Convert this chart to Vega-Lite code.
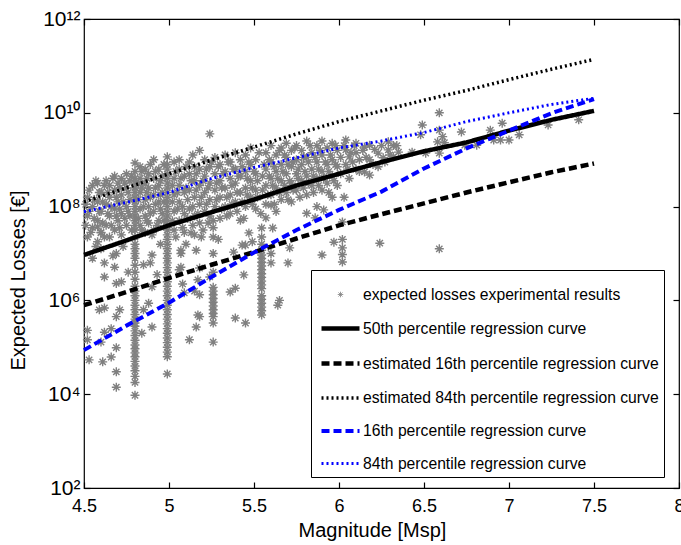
{
"$schema":"https://vega.github.io/schema/vega-lite/v6.json",
"width":595,"height":469,
"autosize":{"type":"none"},
"padding":{"left":84,"top":19,"right":2,"bottom":57},
"background":"white",
"config":{"font":"Liberation Sans","view":{"stroke":"black","strokeWidth":1.2},
 "axis":{"labelColor":"black","titleColor":"black","tickColor":"black","domain":false,"labelFontSize":18,"titleFontSize":20,"titleFontWeight":"normal","grid":false,"tickSize":6,"offset":-6,"tickWidth":1.2,"zindex":1,"labelFlush":false}},
"datasets":{
"pts":[
{"m":4.8,"v":9.5e3},{"m":4.8,"v":1.78e4},{"m":4.8,"v":2.4e4},{"m":4.8,"v":3.16e4},{"m":4.8,"v":3.98e4},{"m":4.8,"v":5.0e4},{"m":4.8,"v":6.3e4},{"m":4.8,"v":7.6e4},{"m":4.8,"v":9.3e4},{"m":4.8,"v":1.12e5},{"m":4.8,"v":1.41e5},{"m":4.8,"v":1.78e5},{"m":4.8,"v":2.24e5},{"m":4.8,"v":2.82e5},{"m":4.8,"v":3.3e5},{"m":4.8,"v":3.98e5},{"m":4.8,"v":5.0e5},{"m":4.8,"v":6.3e5},{"m":4.8,"v":7.9e5},{"m":4.8,"v":1.0e6},{"m":4.8,"v":1.26e6},{"m":4.8,"v":1.58e6},{"m":4.8,"v":2.0e6},{"m":4.8,"v":2.82e6},{"m":4.8,"v":3.98e6},{"m":4.8,"v":5.6e6},{"m":4.8,"v":7.9e6},{"m":4.8,"v":1.0e7},{"m":4.8,"v":1.26e7},{"m":4.8,"v":1.58e7},{"m":4.8,"v":2.24e7},{"m":4.8,"v":3.16e7},{"m":4.8,"v":3.98e7},{"m":4.8,"v":5.0e7},{"m":4.8,"v":6.3e7},{"m":4.8,"v":7.9e7},{"m":4.8,"v":1.0e8},{"m":4.8,"v":1.26e8},{"m":4.8,"v":1.58e8},{"m":4.8,"v":2.0e8},{"m":4.8,"v":2.5e8},{"m":4.8,"v":3.16e8},{"m":4.8,"v":3.98e8},{"m":4.8,"v":5.6e8},{"m":4.8,"v":8.5e8},
{"m":4.99,"v":2.7e4},{"m":4.99,"v":6.3e4},{"m":4.99,"v":7.9e4},{"m":4.99,"v":1.0e5},{"m":4.99,"v":1.26e5},{"m":4.99,"v":1.58e5},{"m":4.99,"v":2.0e5},{"m":4.99,"v":2.5e5},{"m":4.99,"v":3.16e5},{"m":4.99,"v":3.98e5},{"m":4.99,"v":5.0e5},{"m":4.99,"v":6.3e5},{"m":4.99,"v":7.9e5},{"m":4.99,"v":1.0e6},{"m":4.99,"v":1.26e6},{"m":4.99,"v":1.58e6},{"m":4.99,"v":2.0e6},{"m":4.99,"v":2.5e6},{"m":4.99,"v":3.16e6},{"m":4.99,"v":3.98e6},{"m":4.99,"v":5.0e6},{"m":4.99,"v":6.3e6},{"m":4.99,"v":7.9e6},{"m":4.99,"v":1.0e7},{"m":4.99,"v":1.26e7},{"m":4.99,"v":1.58e7},{"m":4.99,"v":2.0e7},{"m":4.99,"v":2.5e7},{"m":4.99,"v":3.16e7},{"m":4.99,"v":3.98e7},{"m":4.99,"v":5.0e7},{"m":4.99,"v":6.3e7},{"m":4.99,"v":7.9e7},{"m":4.99,"v":1.0e8},{"m":4.99,"v":1.26e8},{"m":4.99,"v":1.58e8},{"m":4.99,"v":2.0e8},{"m":4.99,"v":2.5e8},{"m":4.99,"v":3.16e8},{"m":4.99,"v":3.98e8},{"m":4.99,"v":5.0e8},{"m":4.99,"v":6.3e8},{"m":4.99,"v":7.9e8},{"m":4.99,"v":1.15e9},
{"m":5.26,"v":1.29e5},{"m":5.26,"v":3.3e5},{"m":5.26,"v":4.5e5},{"m":5.26,"v":5.25e5},{"m":5.26,"v":6.3e5},{"m":5.26,"v":7.6e5},{"m":5.26,"v":9.1e5},{"m":5.26,"v":1.1e6},{"m":5.26,"v":1.32e6},{"m":5.26,"v":1.58e6},{"m":5.26,"v":1.9e6},{"m":5.26,"v":3.98e6},{"m":5.26,"v":1.0e7},{"m":5.26,"v":2.24e7},{"m":5.26,"v":3.55e7},
{"m":5.545,"v":4.9e5},{"m":5.545,"v":6.0e5},{"m":5.545,"v":7.2e5},{"m":5.545,"v":8.7e5},{"m":5.545,"v":1.05e6},{"m":5.545,"v":1.26e6},{"m":5.545,"v":1.78e6},{"m":5.545,"v":2.14e6},{"m":5.545,"v":2.57e6},{"m":5.545,"v":3.1e6},{"m":5.545,"v":3.7e6},{"m":5.545,"v":4.5e6},{"m":5.545,"v":5.4e6},{"m":5.545,"v":6.5e6},{"m":5.545,"v":7.8e6},{"m":5.545,"v":9.3e6},{"m":5.545,"v":1.17e7},{"m":5.545,"v":1.58e7},{"m":5.545,"v":2.24e7},{"m":5.545,"v":3.5e7},
{"m":6.02,"v":6.6e6},{"m":6.02,"v":9.5e6},{"m":6.02,"v":1.32e7},{"m":6.02,"v":2.0e7},
{"m":4.52,"v":2.3e5},{"m":4.52,"v":1.45e5},{"m":4.53,"v":5.4e4},{"m":4.62,"v":6.3e6},{"m":4.62,"v":3.16e6},{"m":4.69,"v":2.3e6},{"m":4.62,"v":6.9e5},{"m":4.71,"v":6.3e5},{"m":4.69,"v":4.5e5},{"m":4.62,"v":2.1e5},{"m":4.66,"v":2.5e5},{"m":4.69,"v":9.8e4},{"m":4.66,"v":6.2e4},{"m":4.61,"v":4.9e4},{"m":4.69,"v":3.0e4},{"m":4.69,"v":1.41e4},{"m":4.85,"v":5.75e6},{"m":4.89,"v":6.3e6},{"m":4.9,"v":1.95e6},{"m":4.9,"v":2.7e5},{"m":4.88,"v":8.7e5},{"m":4.84,"v":2.0e5},{"m":4.9,"v":9.3e6},{"m":5.07,"v":5.1e6},{"m":5.07,"v":1.0e7},{"m":5.16,"v":1.17e7},{"m":5.09,"v":1.45e6},{"m":5.15,"v":1.58e6},{"m":5.17,"v":4.9e5},{"m":5.16,"v":2.7e5},{"m":5.12,"v":1.45e5},{"m":5.17,"v":2.75e6},{"m":5.43,"v":1.51e7},{"m":5.49,"v":1.78e7},{"m":5.38,"v":1.07e7},{"m":5.6,"v":1.0e7},{"m":5.6,"v":6.3e6},{"m":5.7,"v":6.3e6},{"m":5.71,"v":1.32e7},{"m":5.9,"v":9.3e6},{"m":5.44,"v":3.5e6},{"m":5.36,"v":1.51e6},{"m":5.39,"v":1.82e6},{"m":5.65,"v":1.0e6},{"m":5.64,"v":7.9e5},{"m":5.39,"v":4.2e5},{"m":5.45,"v":3.3e5},{"m":5.18,"v":1.32e6},{"m":5.18,"v":4.5e5},{"m":6.24,"v":1.66e7},{"m":6.59,"v":1.26e7},{"m":6.03,"v":1.58e8},{"m":4.68,"v":5.1e6},{"m":4.59,"v":6.3e5},{"m":4.6,"v":1.29e5},{"m":4.85,"v":6.3e5},{"m":5.06,"v":4.5e6},{"m":5.18,"v":4.9e6},{"m":5.24,"v":3.16e6},{"m":4.55,"v":7.9e6},{"m":4.6,"v":1.26e7},{"m":4.67,"v":8.9e6},{"m":4.73,"v":1.41e7},{"m":4.76,"v":4.0e6},{"m":4.72,"v":2.5e6},{"m":4.58,"v":3.7e7},{"m":4.6,"v":2.75e7},{"m":4.57,"v":1.41e7},{"m":4.93,"v":3.55e6},{"m":4.95,"v":1.58e7},{"m":5.08,"v":2.24e6},
{"m":4.62,"v":2.24e7},{"m":4.69,"v":1.0e7},{"m":5.07,"v":1.17e7},{"m":5.13,"v":2.75e7},{"m":5.19,"v":2.24e7},{"m":5.1,"v":1.58e7},{"m":5.42,"v":5.1e7},{"m":5.61,"v":3.5e7},{"m":5.57,"v":5.75e7},{"m":5.81,"v":7.2e7},{"m":5.91,"v":8.5e7},{"m":5.86,"v":5.75e7},{"m":6.02,"v":4.7e7},{"m":5.6,"v":1.07e8},{"m":5.47,"v":2.75e7},{"m":5.45,"v":1.51e7},{"m":5.97,"v":1.74e7},{"m":5.29,"v":2.0e7},
{"m":4.52,"v":2.24e7},{"m":4.52,"v":6.3e7},{"m":4.52,"v":1.58e8},
{"m":4.55,"v":3.55e7},{"m":4.55,"v":1.0e8},{"m":4.55,"v":2.82e8},
{"m":4.58,"v":1.78e7},{"m":4.58,"v":5.0e7},{"m":4.58,"v":1.26e8},{"m":4.58,"v":3.16e8},
{"m":4.6,"v":2.82e7},{"m":4.6,"v":7.9e7},{"m":4.6,"v":2.0e8},
{"m":4.63,"v":3.98e7},{"m":4.63,"v":1.12e8},{"m":4.63,"v":3.55e8},
{"m":4.65,"v":2.24e7},{"m":4.65,"v":6.3e7},{"m":4.65,"v":1.58e8},{"m":4.65,"v":2.82e8},
{"m":4.68,"v":3.16e7},{"m":4.68,"v":8.9e7},{"m":4.68,"v":2.24e8},{"m":4.68,"v":4.47e8},
{"m":4.7,"v":5.0e7},{"m":4.7,"v":1.26e8},{"m":4.7,"v":3.16e8},
{"m":4.72,"v":2.5e7},{"m":4.72,"v":7.1e7},{"m":4.72,"v":1.78e8},{"m":4.72,"v":3.98e8},
{"m":4.75,"v":3.98e7},{"m":4.75,"v":1.0e8},{"m":4.75,"v":2.5e8},{"m":4.75,"v":5.0e8},
{"m":4.77,"v":6.3e7},{"m":4.77,"v":1.41e8},{"m":4.77,"v":3.55e8},
{"m":4.83,"v":3.98e7},{"m":4.83,"v":8.9e7},{"m":4.83,"v":2.0e8},{"m":4.83,"v":3.98e8},{"m":4.83,"v":7.1e8},
{"m":4.86,"v":2.82e7},{"m":4.86,"v":6.3e7},{"m":4.86,"v":1.41e8},{"m":4.86,"v":3.16e8},{"m":4.86,"v":6.3e8},
{"m":4.88,"v":4.47e7},{"m":4.88,"v":1.0e8},{"m":4.88,"v":2.5e8},{"m":4.88,"v":5.0e8},
{"m":4.91,"v":3.16e7},{"m":4.91,"v":7.9e7},{"m":4.91,"v":1.78e8},{"m":4.91,"v":3.98e8},{"m":4.91,"v":1.0e9},
{"m":4.94,"v":5.0e7},{"m":4.94,"v":1.26e8},{"m":4.94,"v":2.82e8},{"m":4.94,"v":6.3e8},
{"m":4.96,"v":7.1e7},{"m":4.96,"v":2.0e8},{"m":4.96,"v":4.47e8},
{"m":5.03,"v":3.16e7},{"m":5.03,"v":7.9e7},{"m":5.03,"v":1.78e8},{"m":5.03,"v":3.98e8},{"m":5.03,"v":8.9e8},
{"m":5.06,"v":5.0e7},{"m":5.06,"v":1.26e8},{"m":5.06,"v":2.82e8},{"m":5.06,"v":6.3e8},{"m":5.06,"v":1.0e9},
{"m":5.09,"v":2.82e7},{"m":5.09,"v":7.1e7},{"m":5.09,"v":2.0e8},{"m":5.09,"v":4.47e8},
{"m":5.12,"v":8.9e7},{"m":5.12,"v":2.24e8},{"m":5.12,"v":5.0e8},{"m":5.12,"v":8.9e8},
{"m":5.15,"v":2.5e7},{"m":5.15,"v":6.3e7},{"m":5.15,"v":1.58e8},{"m":5.15,"v":3.55e8},{"m":5.15,"v":7.1e8},
{"m":5.18,"v":4.47e7},{"m":5.18,"v":1.12e8},{"m":5.18,"v":2.82e8},{"m":5.18,"v":6.3e8},{"m":5.18,"v":1.58e9},
{"m":5.21,"v":7.9e7},{"m":5.21,"v":2.0e8},{"m":5.21,"v":4.47e8},{"m":5.21,"v":1.0e9},
{"m":5.24,"v":6.3e7},{"m":5.24,"v":1.41e8},{"m":5.24,"v":3.16e8},{"m":5.24,"v":7.1e8},{"m":5.24,"v":3.55e9},
{"m":5.27,"v":1.0e8},{"m":5.27,"v":2.24e8},{"m":5.27,"v":5.0e8},{"m":5.27,"v":1.12e9},
{"m":5.3,"v":5.6e7},{"m":5.3,"v":1.58e8},{"m":5.3,"v":3.55e8},{"m":5.3,"v":7.9e8},
{"m":5.33,"v":1.0e8},{"m":5.33,"v":2.5e8},{"m":5.33,"v":5.6e8},{"m":5.33,"v":1.26e9},
{"m":5.36,"v":7.1e7},{"m":5.36,"v":1.78e8},{"m":5.36,"v":3.98e8},{"m":5.36,"v":8.9e8},
{"m":5.39,"v":1.26e8},{"m":5.39,"v":3.16e8},{"m":5.39,"v":6.3e8},{"m":5.39,"v":1.41e9},
{"m":5.42,"v":2.0e8},{"m":5.42,"v":4.47e8},{"m":5.42,"v":1.0e9},
{"m":5.45,"v":1.0e8},{"m":5.45,"v":2.5e8},{"m":5.45,"v":5.6e8},{"m":5.45,"v":1.26e9},
{"m":5.48,"v":1.58e8},{"m":5.48,"v":3.55e8},{"m":5.48,"v":7.9e8},{"m":5.48,"v":1.78e9},
{"m":5.51,"v":8.9e7},{"m":5.51,"v":2.24e8},{"m":5.51,"v":5.0e8},{"m":5.51,"v":1.0e9},
{"m":5.57,"v":1.12e8},{"m":5.57,"v":2.82e8},{"m":5.57,"v":6.3e8},{"m":5.57,"v":1.41e9},
{"m":5.6,"v":1.78e8},{"m":5.6,"v":3.98e8},{"m":5.6,"v":8.9e8},{"m":5.6,"v":2.0e9},
{"m":5.63,"v":7.9e7},{"m":5.63,"v":2.5e8},{"m":5.63,"v":5.6e8},{"m":5.63,"v":1.26e9},
{"m":5.66,"v":1.41e8},{"m":5.66,"v":3.55e8},{"m":5.66,"v":7.9e8},{"m":5.66,"v":1.78e9},
{"m":5.69,"v":2.0e8},{"m":5.69,"v":5.0e8},{"m":5.69,"v":1.12e9},{"m":5.69,"v":2.24e9},
{"m":5.72,"v":1.26e8},{"m":5.72,"v":3.16e8},{"m":5.72,"v":7.1e8},{"m":5.72,"v":1.58e9},
{"m":5.75,"v":2.24e8},{"m":5.75,"v":5.0e8},{"m":5.75,"v":1.0e9},{"m":5.75,"v":2.0e9},
{"m":5.78,"v":3.55e8},{"m":5.78,"v":7.9e8},{"m":5.78,"v":1.58e9},
{"m":5.81,"v":1.78e8},{"m":5.81,"v":4.47e8},{"m":5.81,"v":1.12e9},{"m":5.81,"v":2.5e9},
{"m":5.84,"v":2.82e8},{"m":5.84,"v":6.3e8},{"m":5.84,"v":1.41e9},
{"m":5.87,"v":1.0e8},{"m":5.87,"v":3.98e8},{"m":5.87,"v":8.9e8},{"m":5.87,"v":2.0e9},
{"m":5.9,"v":2.24e8},{"m":5.9,"v":5.6e8},{"m":5.9,"v":1.26e9},{"m":5.9,"v":2.5e9},
{"m":5.93,"v":3.16e8},{"m":5.93,"v":7.9e8},{"m":5.93,"v":1.78e9},
{"m":5.96,"v":1.58e8},{"m":5.96,"v":4.47e8},{"m":5.96,"v":1.0e9},{"m":5.96,"v":2.24e9},
{"m":5.99,"v":2.82e8},{"m":5.99,"v":7.1e8},{"m":5.99,"v":1.58e9},
{"m":6.04,"v":7.9e8},{"m":6.04,"v":1.62e9},{"m":6.04,"v":2.63e9},
{"m":6.06,"v":3.98e8},{"m":6.06,"v":1.15e9},
{"m":6.1,"v":6.3e8},{"m":6.1,"v":1.41e9},{"m":6.1,"v":2.24e9},
{"m":6.15,"v":5.5e8},{"m":6.15,"v":1.86e9},
{"m":6.18,"v":4.7e8},{"m":6.18,"v":1.0e9},{"m":6.18,"v":2.04e9},
{"m":6.23,"v":1.38e9},{"m":6.23,"v":7.1e8},{"m":6.26,"v":1.1e9},
{"m":6.29,"v":2.4e9},{"m":6.29,"v":1.62e9},{"m":6.32,"v":1.15e9},{"m":6.32,"v":2.0e9},{"m":6.35,"v":1.45e9},
{"m":6.43,"v":1.45e9},{"m":6.49,"v":5.5e9},{"m":6.51,"v":1.38e9},{"m":6.48,"v":3.4e9},{"m":6.59,"v":1.0e10},{"m":6.59,"v":4.27e9},{"m":6.61,"v":3.1e9},{"m":6.58,"v":2.4e9},{"m":6.62,"v":2.3e9},{"m":6.59,"v":1.38e9},{"m":6.72,"v":3.9e9},{"m":6.74,"v":2.04e9},{"m":6.81,"v":2.04e9},{"m":6.89,"v":4.27e9},{"m":6.91,"v":2.63e9},{"m":6.96,"v":6.0e9},{"m":6.95,"v":2.63e9},{"m":7.0,"v":2.63e9},{"m":7.06,"v":3.4e9},{"m":7.23,"v":5.5e9},{"m":7.41,"v":7.1e9},
{"m":4.51,"v":3.98e7},{"m":4.51,"v":1.12e8},{"m":4.53,"v":7.9e7},{"m":4.53,"v":2.24e8},{"m":4.54,"v":2.82e7},{"m":4.56,"v":5.6e7},{"m":4.56,"v":1.41e8},{"m":4.57,"v":3.55e8},{"m":4.59,"v":7.9e7},{"m":4.59,"v":2.0e8},{"m":4.61,"v":4.47e7},{"m":4.61,"v":1.26e8},{"m":4.62,"v":2.82e8},{"m":4.64,"v":7.1e7},{"m":4.64,"v":2.0e8},{"m":4.66,"v":3.98e7},{"m":4.66,"v":1.0e8},{"m":4.67,"v":3.98e8},{"m":4.69,"v":6.3e7},{"m":4.69,"v":1.58e8},{"m":4.71,"v":3.55e7},{"m":4.71,"v":8.9e7},{"m":4.71,"v":2.5e8},{"m":4.73,"v":1.26e8},{"m":4.74,"v":5.6e7},{"m":4.74,"v":3.16e8},{"m":4.76,"v":7.9e7},{"m":4.76,"v":2.0e8},{"m":4.78,"v":3.16e7},{"m":4.78,"v":4.47e8},
{"m":4.82,"v":5.6e7},{"m":4.82,"v":1.41e8},{"m":4.82,"v":3.16e8},{"m":4.84,"v":3.16e7},{"m":4.84,"v":2.5e8},{"m":4.84,"v":5.6e8},{"m":4.85,"v":1.0e8},{"m":4.87,"v":5.0e7},{"m":4.87,"v":2.0e8},{"m":4.87,"v":3.98e8},{"m":4.89,"v":7.1e7},{"m":4.89,"v":1.58e8},{"m":4.89,"v":7.9e8},{"m":4.9,"v":2.5e7},{"m":4.92,"v":1.12e8},{"m":4.92,"v":2.5e8},{"m":4.92,"v":5.6e8},{"m":4.93,"v":3.98e7},{"m":4.95,"v":8.9e7},{"m":4.95,"v":1.78e8},{"m":4.95,"v":3.55e8},{"m":4.97,"v":5.0e7},{"m":4.97,"v":1.26e8},{"m":4.97,"v":7.9e8},
{"m":5.02,"v":5.0e7},{"m":5.02,"v":1.26e8},{"m":5.02,"v":2.82e8},{"m":5.04,"v":2.24e7},{"m":5.04,"v":5.6e8},{"m":5.05,"v":8.9e7},{"m":5.05,"v":2.0e8},{"m":5.07,"v":3.98e8},{"m":5.08,"v":3.55e7},{"m":5.08,"v":1.0e8},{"m":5.1,"v":2.5e8},{"m":5.1,"v":7.1e8},{"m":5.11,"v":5.6e7},{"m":5.11,"v":1.41e8},{"m":5.13,"v":3.55e8},{"m":5.14,"v":3.98e7},{"m":5.14,"v":1.0e8},{"m":5.14,"v":1.26e9},{"m":5.16,"v":2.24e8},{"m":5.16,"v":5.0e8},{"m":5.17,"v":7.1e7},{"m":5.19,"v":1.58e8},{"m":5.2,"v":3.55e8},{"m":5.2,"v":3.16e7},{"m":5.22,"v":1.12e8},{"m":5.22,"v":6.3e8},{"m":5.23,"v":4.47e7},{"m":5.23,"v":2.5e8},{"m":5.25,"v":8.9e8},
{"m":5.26,"v":5.0e7},{"m":5.28,"v":1.41e8},{"m":5.28,"v":3.16e8},{"m":5.29,"v":7.1e8},{"m":5.31,"v":8.9e7},{"m":5.31,"v":2.5e8},{"m":5.32,"v":5.0e8},{"m":5.34,"v":6.3e7},{"m":5.34,"v":1.58e8},{"m":5.35,"v":8.9e8},{"m":5.37,"v":1.12e8},{"m":5.37,"v":2.82e8},{"m":5.38,"v":6.3e8},{"m":5.4,"v":7.9e7},{"m":5.4,"v":2.0e8},{"m":5.41,"v":4.47e8},{"m":5.43,"v":1.26e8},{"m":5.43,"v":7.1e8},{"m":5.44,"v":5.6e7},{"m":5.46,"v":1.78e8},{"m":5.46,"v":3.98e8},{"m":5.47,"v":8.9e8},{"m":5.49,"v":1.12e8},{"m":5.49,"v":2.5e8},{"m":5.5,"v":5.6e8},{"m":5.52,"v":1.58e8},{"m":5.52,"v":3.55e8},{"m":5.53,"v":1.41e9},{"m":5.54,"v":7.1e7},{"m":5.55,"v":2.24e8},{"m":5.55,"v":4.47e8},
{"m":5.56,"v":7.9e8},{"m":5.58,"v":1.78e8},{"m":5.59,"v":4.47e8},{"m":5.59,"v":1.0e9},{"m":5.61,"v":2.82e8},{"m":5.62,"v":1.12e8},{"m":5.62,"v":7.1e8},{"m":5.64,"v":3.98e8},{"m":5.65,"v":1.58e9},{"m":5.65,"v":2.0e8},{"m":5.67,"v":5.6e8},{"m":5.68,"v":2.82e8},{"m":5.68,"v":1.26e9},{"m":5.7,"v":1.41e8},{"m":5.7,"v":7.9e8},{"m":5.71,"v":3.55e8},{"m":5.73,"v":2.24e8},{"m":5.73,"v":8.9e8},{"m":5.74,"v":1.78e9},{"m":5.76,"v":3.98e8},{"m":5.76,"v":6.3e8},{"m":5.77,"v":1.58e8},{"m":5.79,"v":2.5e8},{"m":5.79,"v":1.12e9},{"m":5.8,"v":5.6e8},{"m":5.82,"v":3.16e8},{"m":5.82,"v":8.9e8},{"m":5.83,"v":2.0e9},{"m":5.85,"v":2.0e8},{"m":5.85,"v":4.47e8},{"m":5.86,"v":1.12e9},{"m":5.88,"v":2.82e8},{"m":5.88,"v":6.3e8},{"m":5.89,"v":1.58e9},{"m":5.91,"v":3.98e8},{"m":5.92,"v":8.9e8},{"m":5.94,"v":2.0e8},{"m":5.94,"v":5.6e8},{"m":5.95,"v":1.26e9},{"m":5.97,"v":3.55e8},{"m":5.98,"v":7.9e8},{"m":5.98,"v":2.0e9},
{"m":6.01,"v":5.0e8},{"m":6.01,"v":1.12e9},{"m":6.03,"v":2.0e9},{"m":6.05,"v":6.3e8},{"m":6.07,"v":1.41e9},{"m":6.08,"v":8.9e8},{"m":6.09,"v":2.0e9},{"m":6.12,"v":1.0e9},{"m":6.12,"v":5.6e8},{"m":6.14,"v":1.58e9},{"m":6.16,"v":1.12e9},{"m":6.2,"v":7.9e8},{"m":6.21,"v":1.66e9},{"m":6.25,"v":2.0e9},{"m":6.27,"v":8.9e8},{"m":6.3,"v":1.26e9},{"m":6.34,"v":2.0e9}
],
"curves":[
{"s":"50th percentile regression curve","m":4.5,"v":9.3e6},{"s":"50th percentile regression curve","m":4.75,"v":1.9e7},{"s":"50th percentile regression curve","m":5.0,"v":4.0e7},{"s":"50th percentile regression curve","m":5.25,"v":7.6e7},{"s":"50th percentile regression curve","m":5.5,"v":1.41e8},{"s":"50th percentile regression curve","m":5.75,"v":2.82e8},{"s":"50th percentile regression curve","m":6.0,"v":5.0e8},{"s":"50th percentile regression curve","m":6.25,"v":8.9e8},{"s":"50th percentile regression curve","m":6.5,"v":1.51e9},{"s":"50th percentile regression curve","m":6.75,"v":2.34e9},{"s":"50th percentile regression curve","m":7.0,"v":4.17e9},{"s":"50th percentile regression curve","m":7.25,"v":7.08e9},{"s":"50th percentile regression curve","m":7.5,"v":1.1e10},
{"s":"estimated 16th percentile regression curve","m":4.5,"v":7.9e5},{"s":"estimated 16th percentile regression curve","m":4.75,"v":1.51e6},{"s":"estimated 16th percentile regression curve","m":5.0,"v":3.0e6},{"s":"estimated 16th percentile regression curve","m":5.25,"v":5.75e6},{"s":"estimated 16th percentile regression curve","m":5.5,"v":1.07e7},{"s":"estimated 16th percentile regression curve","m":5.75,"v":2.09e7},{"s":"estimated 16th percentile regression curve","m":6.0,"v":3.98e7},{"s":"estimated 16th percentile regression curve","m":6.25,"v":6.9e7},{"s":"estimated 16th percentile regression curve","m":6.5,"v":1.17e8},{"s":"estimated 16th percentile regression curve","m":6.75,"v":2.0e8},{"s":"estimated 16th percentile regression curve","m":7.0,"v":3.3e8},{"s":"estimated 16th percentile regression curve","m":7.25,"v":5.4e8},{"s":"estimated 16th percentile regression curve","m":7.5,"v":8.3e8},
{"s":"estimated 84th percentile regression curve","m":4.5,"v":1.26e8},{"s":"estimated 84th percentile regression curve","m":4.75,"v":2.51e8},{"s":"estimated 84th percentile regression curve","m":5.0,"v":5.0e8},{"s":"estimated 84th percentile regression curve","m":5.25,"v":9.8e8},{"s":"estimated 84th percentile regression curve","m":5.5,"v":1.86e9},{"s":"estimated 84th percentile regression curve","m":5.75,"v":3.55e9},{"s":"estimated 84th percentile regression curve","m":6.0,"v":6.5e9},{"s":"estimated 84th percentile regression curve","m":6.25,"v":1.1e10},{"s":"estimated 84th percentile regression curve","m":6.5,"v":1.86e10},{"s":"estimated 84th percentile regression curve","m":6.75,"v":3.0e10},{"s":"estimated 84th percentile regression curve","m":7.0,"v":5.1e10},{"s":"estimated 84th percentile regression curve","m":7.25,"v":8.5e10},{"s":"estimated 84th percentile regression curve","m":7.5,"v":1.38e11},
{"s":"16th percentile regression curve","m":4.5,"v":8.7e4},{"s":"16th percentile regression curve","m":4.75,"v":2.9e5},{"s":"16th percentile regression curve","m":5.0,"v":8.9e5},{"s":"16th percentile regression curve","m":5.25,"v":3.16e6},{"s":"16th percentile regression curve","m":5.5,"v":1.05e7},{"s":"16th percentile regression curve","m":5.75,"v":3.16e7},{"s":"16th percentile regression curve","m":6.0,"v":8.5e7},{"s":"16th percentile regression curve","m":6.25,"v":2.09e8},{"s":"16th percentile regression curve","m":6.5,"v":6.5e8},{"s":"16th percentile regression curve","m":6.75,"v":1.74e9},{"s":"16th percentile regression curve","m":7.0,"v":4.17e9},{"s":"16th percentile regression curve","m":7.25,"v":9.8e9},{"s":"16th percentile regression curve","m":7.5,"v":1.95e10},
{"s":"84th percentile regression curve","m":4.5,"v":7.8e7},{"s":"84th percentile regression curve","m":4.75,"v":1.23e8},{"s":"84th percentile regression curve","m":5.0,"v":2.0e8},{"s":"84th percentile regression curve","m":5.25,"v":3.98e8},{"s":"84th percentile regression curve","m":5.5,"v":6.8e8},{"s":"84th percentile regression curve","m":5.75,"v":1.1e9},{"s":"84th percentile regression curve","m":6.0,"v":1.78e9},{"s":"84th percentile regression curve","m":6.25,"v":2.51e9},{"s":"84th percentile regression curve","m":6.5,"v":3.8e9},{"s":"84th percentile regression curve","m":6.75,"v":6.5e9},{"s":"84th percentile regression curve","m":7.0,"v":1.0e10},{"s":"84th percentile regression curve","m":7.25,"v":1.51e10},{"s":"84th percentile regression curve","m":7.5,"v":2.04e10}
]},
"layer":[
{"data":{"name":"pts"},
 "mark":{"type":"point","shape":"M-1,0L1,0M0,-1L0,1M-0.7,-0.7L0.7,0.7M-0.7,0.7L0.7,-0.7","filled":false,"size":81,"strokeWidth":1.4,"opacity":1},
 "encoding":{
  "x":{"field":"m","type":"quantitative","scale":{"domain":[4.5,8],"nice":false,"zero":false},
   "axis":{"orient":"bottom","values":[4.5,5,5.5,6,6.5,7,7.5,8],"format":"~g","title":"Magnitude [Msp]","labelPadding":9,"titlePadding":5,"titleX":288}},
  "y":{"field":"v","type":"quantitative","scale":{"type":"log","domain":[100,1e12],"nice":false},
   "axis":{"orient":"left","values":[1e2,1e4,1e6,1e8,1e10,1e12],"title":"Expected Losses [€]","labelPadding":4,"labelFontSize":21,"titlePadding":14,"titleY":261,
    "labelExpr":"datum.value == 1e12 ? '10¹²' : datum.value == 1e10 ? '10¹⁰' : datum.value == 1e8 ? '10⁸' : datum.value == 1e6 ? '10⁶' : datum.value == 1e4 ? '10⁴' : '10²'"}},
  "color":{"datum":"expected losses experimental results"}
 }},
{"data":{"name":"curves"},
 "mark":{"type":"line"},
 "encoding":{
  "x":{"field":"m","type":"quantitative","axis":{"orient":"top","values":[4.5,5,5.5,6,6.5,7,7.5,8],"labels":false,"title":null}},
  "y":{"field":"v","type":"quantitative","axis":{"orient":"right","values":[1e2,1e4,1e6,1e8,1e10,1e12],"labels":false,"title":null}},
  "color":{"field":"s","type":"nominal",
   "scale":{"domain":["expected losses experimental results","50th percentile regression curve","estimated 16th percentile regression curve","estimated 84th percentile regression curve","16th percentile regression curve","84th percentile regression curve"],
            "range":["#808080","#000000","#000000","#000000","#0000ff","#0000ff"]},
   "legend":{"orient":"none","legendX":227,"legendY":251,"title":null,"padding":5,"symbolOffset":3,"strokeColor":"black","fillColor":"white",
     "symbolType":"stroke","symbolSize":1444,"labelFontSize":15.7,"labelColor":"black","labelLimit":500,"labelOffset":1,"rowPadding":4,
     "encode":{"symbols":{"update":{"shape":{"signal":"datum.value === 'expected losses experimental results' ? 'M-1,0L1,0M0,-1L0,1M-0.7,-0.7L0.7,0.7M-0.7,0.7L0.7,-0.7' : 'stroke'"},
                          "size":{"signal":"datum.value === 'expected losses experimental results' ? 30 : 1444"}}}}}},
  "strokeDash":{"field":"s","type":"nominal",
   "scale":{"domain":["expected losses experimental results","50th percentile regression curve","estimated 16th percentile regression curve","estimated 84th percentile regression curve","16th percentile regression curve","84th percentile regression curve"],
            "range":[[1,0],[1,0],[8,4],[2,3],[8,4],[2,3]]}},
  "strokeWidth":{"field":"s","type":"nominal",
   "scale":{"type":"ordinal","domain":["expected losses experimental results","50th percentile regression curve","estimated 16th percentile regression curve","estimated 84th percentile regression curve","16th percentile regression curve","84th percentile regression curve"],
            "range":[1,4.5,4.5,3.5,4,3]}}
 }}
],
"resolve":{"axis":{"x":"independent","y":"independent"}}
}
